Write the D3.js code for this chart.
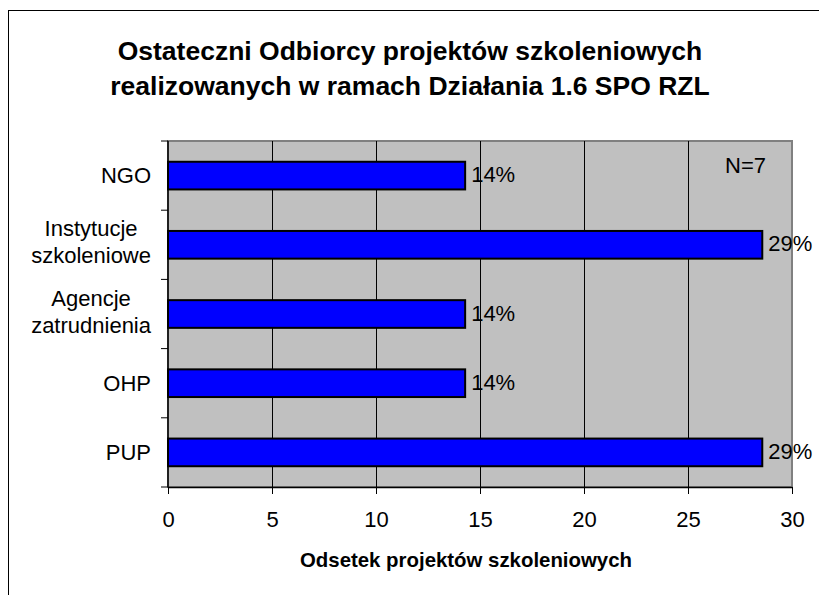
<!DOCTYPE html>
<html>
<head>
<meta charset="utf-8">
<script src="https://cdn.jsdelivr.net/npm/d3@7"></script>
<style>
  body { margin: 0; background: #fff; }
  svg text { font-family: "Liberation Sans", Arial, sans-serif; fill: #000; }
</style>
</head>
<body>
<svg id="chart"></svg>
<script>
// categories top to bottom
const categories = [["NGO"], ["Instytucje", "szkoleniowe"], ["Agencje", "zatrudnienia"], ["OHP"], ["PUP"]];
const values = [14.2857, 28.5714, 14.2857, 14.2857, 28.5714];
const valueLabels = ["14%", "29%", "14%", "14%", "29%"];
const xTicks = [0, 5, 10, 15, 20, 25, 30];
const titleLines = ["Ostateczni Odbiorcy projektów szkoleniowych", "realizowanych w ramach Działania 1.6 SPO RZL"];
const xTitle = "Odsetek projektów szkoleniowych";
const note = "N=7";

const width = 819;
const height = 595;
const margin = ({ top: 141, right: 27, bottom: 108, left: 168 });
const fs = 22;

const svg = d3.select("#chart")
    .attr("width", width)
    .attr("height", height);

// outer chart border
svg.append("rect")
    .attr("x", 8.5).attr("y", 10.5)
    .attr("width", width + 10).attr("height", height + 10)
    .attr("fill", "#fff").attr("stroke", "#000");

const ids = categories.map((d, i) => i);

let xScale = d3.scaleLinear()
    .domain([0, 30])
    .range([margin.left, width - margin.right]);

let yScale = d3.scaleBand()
    .domain(ids)
    .range([margin.top, height - margin.bottom])
    .paddingInner(0.6)
    .paddingOuter(0.3);

// plot area
svg.append("rect")
    .attr("x", margin.left).attr("y", margin.top)
    .attr("width", xScale(30) - margin.left)
    .attr("height", height - margin.bottom - margin.top)
    .attr("fill", "#c0c0c0")
    .attr("stroke", "#808080").attr("stroke-width", 2);

// gridlines
svg.append("g")
    .selectAll("line")
    .data(xTicks.slice(1, -1))
    .join("line")
    .attr("x1", d => Math.round(xScale(d)) + 0.5)
    .attr("x2", d => Math.round(xScale(d)) + 0.5)
    .attr("y1", margin.top)
    .attr("y2", height - margin.bottom)
    .attr("stroke", "#000");

// bars
svg.append("g")
    .selectAll("rect")
    .data(values)
    .join("rect")
    .attr("x", xScale(0))
    .attr("y", (d, i) => yScale(i))
    .attr("width", d => xScale(d) - xScale(0))
    .attr("height", yScale.bandwidth())
    .attr("fill", "#0000ff")
    .attr("stroke", "#000")
    .attr("stroke-width", 2);

// value labels
svg.append("g")
    .selectAll("text")
    .data(values)
    .join("text")
    .attr("x", d => xScale(d) + 6)
    .attr("y", (d, i) => yScale(i) + yScale.bandwidth() / 2)
    .attr("dy", "0.3em")
    .attr("font-size", fs)
    .text((d, i) => valueLabels[i]);

// x axis
const xAxis = g => g
    .attr("transform", `translate(0,${height - margin.bottom})`)
    .call(d3.axisBottom(xScale).tickValues(xTicks).tickSize(7).tickPadding(17).tickSizeOuter(0))
    .call(g => g.selectAll("text").attr("font-size", fs).attr("font-family", null))
    .call(g => g.select(".domain").attr("stroke", "#000").attr("stroke-width", 1.5));

svg.append("g").call(xAxis);

// y axis: ticks at band boundaries
const bounds = d3.range(categories.length + 1).map(i => margin.top + i * (height - margin.bottom - margin.top) / categories.length);
const yAxis = svg.append("g");
yAxis.append("line")
    .attr("x1", margin.left).attr("x2", margin.left)
    .attr("y1", margin.top).attr("y2", height - margin.bottom)
    .attr("stroke", "#000").attr("stroke-width", 1.5);
yAxis.selectAll("line.tick")
    .data(bounds)
    .join("line")
    .attr("class", "tick")
    .attr("x1", margin.left - 7).attr("x2", margin.left)
    .attr("y1", d => d).attr("y2", d => d)
    .attr("stroke", "#000");

// category labels: block right-aligned, lines centered within block
const labelRight = margin.left - 17;
const lineH = 27;
categories.forEach((lines, i) => {
    const cy = yScale(i) + yScale.bandwidth() / 2;
    const t = yAxis.append("text")
        .attr("text-anchor", "middle")
        .attr("font-size", fs);
    const spans = lines.map((s, j) => t.append("tspan")
        .attr("y", cy + 7.5 - (lines.length - 1) * 16 + j * lineH)
        .text(s));
    const maxW = d3.max(spans, sp => sp.node().getComputedTextLength());
    spans.forEach(sp => sp.attr("x", labelRight - maxW / 2));
});

// title
svg.append("text")
    .attr("text-anchor", "middle")
    .attr("font-size", 26.5)
    .attr("font-weight", "bold")
    .selectAll("tspan")
    .data(titleLines)
    .join("tspan")
    .attr("x", 410)
    .attr("y", (d, i) => 60 + i * 35)
    .text(d => d);

// x axis title
svg.append("text")
    .attr("x", 466)
    .attr("y", 567)
    .attr("text-anchor", "middle")
    .attr("font-size", 20.4)
    .attr("font-weight", "bold")
    .text(xTitle);

// note
svg.append("text")
    .attr("x", 725)
    .attr("y", 173)
    .attr("font-size", fs)
    .text(note);
</script>
</body>
</html>
